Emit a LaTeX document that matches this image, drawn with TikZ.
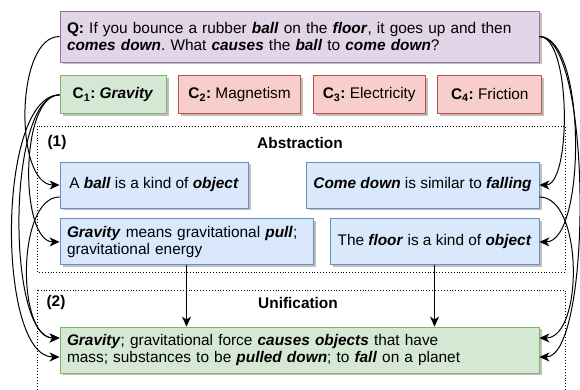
\documentclass[tikz,border=0pt]{standalone}
\usepackage{fontspec}
\setmainfont{Liberation Sans}
\usepackage{xcolor}
\usepackage{tikz}
\usetikzlibrary{arrows.meta,positioning,shadows}
\definecolor{Lilac}{HTML}{E1D5E7}
\definecolor{LilacEdge}{HTML}{9673A6}
\definecolor{Sage}{HTML}{D5E8D4}
\definecolor{SageEdge}{HTML}{82B366}
\definecolor{Rose}{HTML}{F8CECC}
\definecolor{RoseEdge}{HTML}{B85450}
\definecolor{Sky}{HTML}{DAE8FC}
\definecolor{SkyEdge}{HTML}{6C8EBF}
\newcommand{\keyw}[1]{\textbf{\textit{#1}}}
\newcommand{\dsize}{\fontsize{15.4pt}{16.7pt}\selectfont}
\frenchspacing

\begin{document}
\begin{tikzpicture}[
    x=1pt, y=1pt,
    font=\dsize,
    box/.style={line width=0.9pt, inner xsep=7pt, inner ysep=0pt, drop shadow={shadow xshift=2.5pt, shadow yshift=-2.5pt, fill=black!25, opacity=1}},
    question/.style={box, draw=LilacEdge, fill=Lilac, align=left, text width=465pt, minimum height=51pt},
    answer/.style={box, draw=SageEdge, fill=Sage, align=center, minimum height=38pt},
    distractor/.style={box, draw=RoseEdge, fill=Rose, align=center, minimum height=38pt},
    fact/.style={box, draw=SkyEdge, fill=Sky, align=center, minimum height=46pt},
    central/.style={box, draw=SageEdge, fill=Sage, align=left, text width=465pt, minimum height=46pt},
    region/.style={draw, dotted, line width=0.9pt},
    arr/.style={-{Stealth[length=10pt, width=9pt, inset=3pt]}, line width=1pt}
]
\useasboundingbox (0,0) rectangle (580,390);

% dotted regions
\draw[region] (37,264) rectangle (565,118);
\draw[region] (37,100) rectangle (565,-5);
\node[font=\dsize\bfseries] (num1) at (57,247) {(1)};
\node[font=\dsize\bfseries] (abs) at (300,247) {Abstraction};
\node[font=\dsize\bfseries] (num2) at (56,87) {(2)};
\node[font=\dsize\bfseries] (uni) at (298,87) {Unification};

% question and choices
\node[question] (q) at (299.5,353.5) {\textbf{Q:} If you bounce a rubber \keyw{ball} on the \keyw{floor}, it goes up and then\\\keyw{comes down}. What \keyw{causes} the \keyw{ball} to \keyw{come down}?};
\node[answer, minimum width=106pt, below=13pt of q.south west, anchor=north west] (c1) {\textbf{C\textsubscript{1}:} \keyw{Gravity}};
\node[distractor, minimum width=122pt, right=11.7pt of c1] (c2) {\textbf{C\textsubscript{2}:} Magnetism};
\node[distractor, minimum width=112pt, right=11.7pt of c2] (c3) {\textbf{C\textsubscript{3}:} Electricity};
\node[distractor, minimum width=104pt, right=11.7pt of c3] (c4) {\textbf{C\textsubscript{4}:} Friction};

% abstraction facts
\node[fact, minimum width=188pt] (ab) at (154,205) {A \keyw{ball} is a kind of \keyw{object}};
\node[fact, minimum width=253pt, align=left, text width=239pt, below=10pt of ab.south west, anchor=north west] (grav) {\keyw{Gravity} means gravitational \keyw{pull};\\gravitational energy};
\node[fact, minimum width=233pt, anchor=east] (cd) at (q.east |- ab) {\keyw{Come down} is similar to \keyw{falling}};
\node[fact, minimum width=209pt, below=10pt of cd.south east, anchor=north east] (fl) {The \keyw{floor} is a kind of \keyw{object}};

% unification fact
\node[central] (unif) at (299.5,40) {\keyw{Gravity}; gravitational force \keyw{causes objects} that have\\mass; substances to be \keyw{pulled down}; to \keyw{fall} on a planet};

% left links
\draw[arr] (q.west) to[out=180, in=180, distance=45pt] (ab.west);
\draw[arr] (c1.west) to[out=180, in=180, distance=40pt] (grav.west);
\draw[arr] (c1.west) to[out=180, in=180, distance=53pt] ([yshift=12pt]unif.west);
\draw[arr] (c1.west) to[out=180, in=180, distance=63pt] ([yshift=-7pt]unif.west);
\draw[arr] ([yshift=-12pt]ab.west) to[out=180, in=180, distance=43pt] ([yshift=12pt]unif.west);
% right links
\draw[arr] (q.east) to[out=0, in=0, distance=32pt] (cd.east);
\draw[arr] (q.east) to[out=0, in=0, distance=47pt] (fl.east);
\draw[arr] (q.east) to[out=0, in=0, distance=53pt] ([yshift=-7pt]unif.east);
\draw[arr] ([yshift=-12pt]cd.east) to[out=0, in=0, distance=44pt] ([yshift=12pt]unif.east);
% down links
\draw[arr] (grav.south) -- (grav.south |- unif.north);
\draw[arr] (fl.south) -- (fl.south |- unif.north);
\end{tikzpicture}
\end{document}
